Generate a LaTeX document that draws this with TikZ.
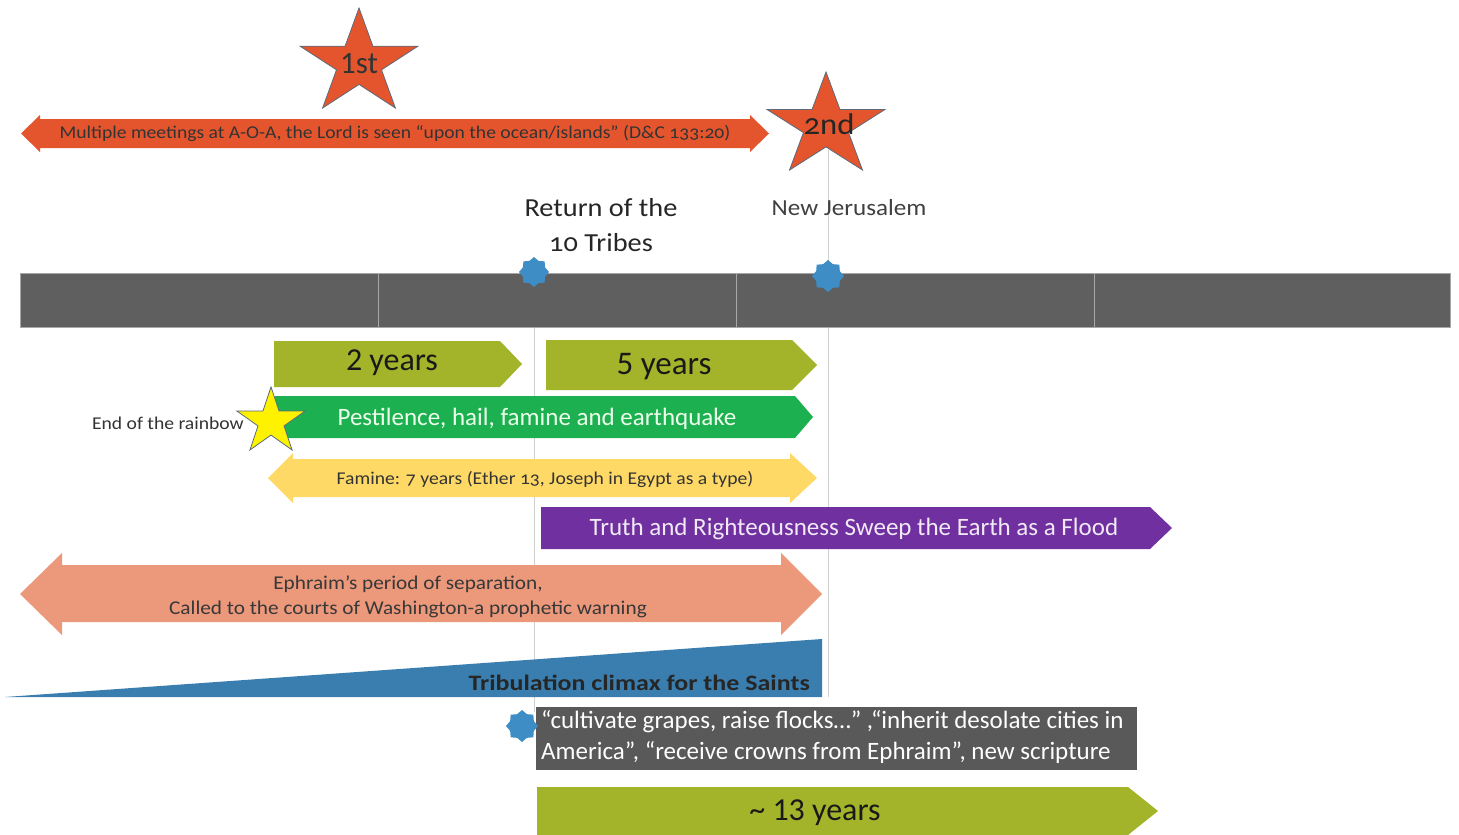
\documentclass[tikz,border=0pt]{standalone}
\usepackage{fontspec}
\setmainfont{Carlito}
\newfontfamily\corb{Carlito}[Numbers=OldStyle,FakeStretch=1.09]
\newfontfamily\corbwide{Carlito}[Numbers=OldStyle,FakeStretch=1.18]
\definecolor{redorange}{HTML}{E5552D}
\definecolor{olive}{HTML}{A3B42A}
\definecolor{leaf}{HTML}{1DB050}
\definecolor{wheat}{HTML}{FFD966}
\definecolor{plum}{HTML}{7030A0}
\definecolor{salmon}{HTML}{EB987B}
\definecolor{steel}{HTML}{3A7EAF}
\definecolor{burst}{HTML}{3E8DC5}
\definecolor{barfill}{HTML}{5F5F5F}
\definecolor{boxfill}{HTML}{595959}
\definecolor{guide}{HTML}{CFCFCF}
\definecolor{starline}{HTML}{5B6B7B}

% five-point star: centre x, centre y, outer radius, horizontal stretch, style
\newcommand\fivestar[5]{%
  \draw[#5,shift={(#1,#2)},xscale=#4]
    (-90:#3) -- (-54:{0.382*#3}) -- (-18:#3) -- (18:{0.382*#3}) -- (54:#3)
    -- (90:{0.382*#3}) -- (126:#3) -- (162:{0.382*#3}) -- (198:#3)
    -- (234:{0.382*#3}) -- cycle;}
% eight-point burst: centre x, centre y, outer radius
\newcommand\eightburst[3]{%
  \fill[burst,shift={(#1,#2)}] (0:#3)
    \foreach \k in {1,...,15} { -- ({\k*22.5}:{mod(\k,2)==1 ? 0.8*#3 : #3}) }
    -- cycle;}
% pentagon arrow: left x, top y, bottom y, body end x, tip x, style
\newcommand\pentbar[6]{%
  \fill[#6] (#1,#2) -- (#4,#2) -- (#5,{(#2+#3)/2}) -- (#4,#3) -- (#1,#3) -- cycle;}
% double arrow: left tip, left head base, right head base, right tip,
% head top, body top, body bottom, head bottom, style
\newcommand\dblarrow[9]{%
  \fill[#9] (#1,{(#5+#8)/2}) -- (#2,#5) -- (#2,#6) -- (#3,#6) -- (#3,#5)
    -- (#4,{(#5+#8)/2}) -- (#3,#8) -- (#3,#7) -- (#2,#7) -- (#2,#8) -- cycle;}

\tikzset{
  starshape/.style={fill=redorange,draw=starline,line width=0.8pt,line join=miter},
  guideline/.style={guide,line width=0.9pt},
  lbl/.style={inner sep=0pt,anchor=center},
  fs/.style n args={2}{font=\fontsize{#1}{#2}\selectfont},
}

\begin{document}
\begin{tikzpicture}[x=1pt,y=-1pt]
\useasboundingbox (0,0) rectangle (1459,835);
\fill[white] (0,0) rectangle (1459,835);

% vertical guide lines behind everything
\draw[guideline] (534,288) -- (534,712);
\draw[guideline] (828,150) -- (828,697);

% timeline bar in four segments
\foreach \xa/\xb in {20/378,378/736,736/1094,1094/1450}
  \filldraw[fill=barfill,draw=white!45!barfill,line width=0.7pt] (\xa,273) rectangle (\xb,327);
\eightburst{534}{272}{15}
\eightburst{828}{276}{16}

% first and second coming
\dblarrow{21}{40}{750}{769}{115}{119}{148}{152}{redorange}
\node[lbl,text=black!80,font=\corb\fontsize{18}{20}\selectfont] (meet) at (395,133)
  {Multiple meetings at A-O-A, the Lord is seen “upon the ocean/islands” (D\&C 133:20)};
\fivestar{359}{63.3}{55.3}{1.12}{starshape}
\node[lbl,text=black!80,fs={31}{32}] (first) at (359,64) {1st};
\fivestar{826}{126.2}{54.2}{1.145}{starshape}
\node[lbl,text=black!85,font=\corb\fontsize{30}{30}\selectfont] (second) at (829,124) {2nd};

% event labels above the bar
\node[lbl,text=black!85,align=center,font=\corb\fontsize{26}{35}\selectfont] (tribes) at (601,225)
  {Return of the\\10 Tribes};
\node[lbl,text=black!75,font=\corb\fontsize{23}{24}\selectfont] (nj) at (849,208) {New Jerusalem};

% duration bars
\pentbar{274}{341}{387}{500}{522}{olive}
\node[lbl,text=black!90,fs={32}{34}] (two) at (392,363) {2 years};
\pentbar{546}{340}{390}{792}{817}{olive}
\node[lbl,text=black!90,fs={33}{34}] (five) at (664,367) {5 years};

\pentbar{275}{396}{438}{795}{813}{leaf}
\node[lbl,text=green!8!white,fs={25}{26}] (pest) at (537,419)
  {Pestilence, hail, famine and earthquake};
\fivestar{271}{421.8}{34.8}{1.03}{fill=yellow,draw=starline,line width=0.8pt}
\node[lbl,anchor=east,text=black!80,font=\corb\fontsize{18}{20}\selectfont] (rainbow) at (244,423)
  {End of the rainbow};

\dblarrow{268}{293}{790}{817}{453}{459}{497}{503}{wheat}
\node[lbl,text=black!80,font=\corb\fontsize{18}{20}\selectfont] (famine) at (545,479)
  {Famine: 7 years (Ether 13, Joseph in Egypt as a type)};

\pentbar{541}{507}{549}{1150}{1172}{plum}
\node[lbl,text=white!90!plum,fs={25}{26}] (truth) at (854,529)
  {Truth and Righteousness Sweep the Earth as a Flood};

\dblarrow{20}{62}{781}{822}{553}{565}{622}{635}{salmon}
\node[lbl,text=black!78,align=center,font=\corb\fontsize{19.5}{25}\selectfont] (ephraim) at (408,597)
  {Ephraim’s period of separation,\\Called to the courts of Washington-a prophetic warning};

\fill[steel] (5,697) -- (822,639) -- (822,697) -- cycle;
\node[lbl,anchor=east,text=black!85,font=\corbwide\bfseries\fontsize{22}{24}\selectfont] (trib) at (810,683)
  {Tribulation climax for the Saints};

% blessings box
\fill[boxfill] (536,707) rectangle (1137,770);
\eightburst{522}{726}{16}
\node[lbl,anchor=west,text=white,align=left,fs={25}{31}] (bless) at (541,737)
  {“cultivate grapes, raise flocks…” ,“inherit desolate cities in\\America”, “receive crowns from Ephraim”, new scripture};

\pentbar{537}{787}{835}{1128}{1158}{olive}
\node[lbl,text=black!90,fs={32}{34}] (thirteen) at (815,813) {\textasciitilde\ 13 years};
\end{tikzpicture}
\end{document}
